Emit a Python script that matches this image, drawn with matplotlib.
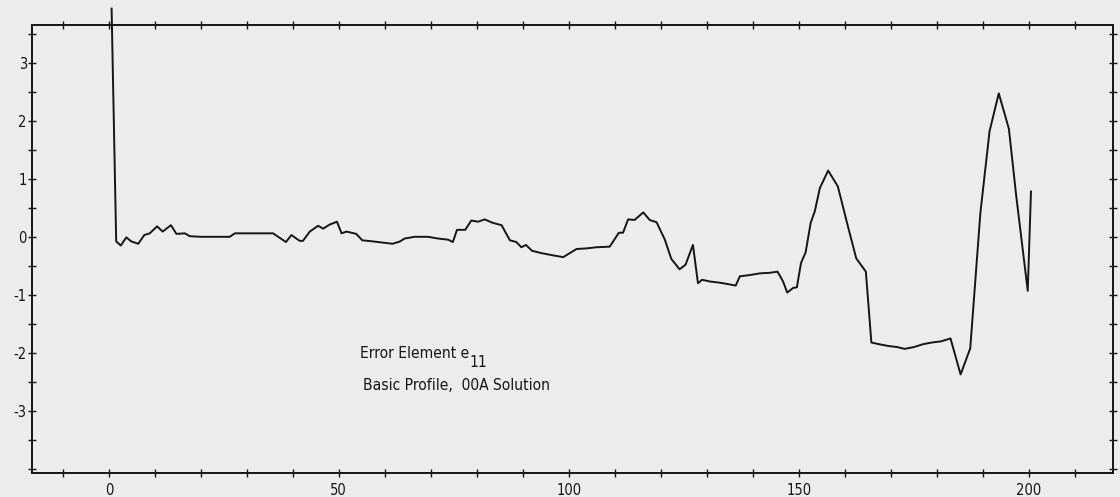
import matplotlib
matplotlib.use("Agg")
import matplotlib.pyplot as plt
from matplotlib.ticker import MultipleLocator

plt.rcParams["axes.unicode_minus"] = False

# sample index and error value
idx = [0.6, 1.6, 2.6, 3.8, 4.9, 6.4, 7.7, 8.9, 10.5, 11.7, 13.5, 14.7, 16.5, 17.6,
       20.0, 23.0, 26.3, 27.4, 31.7, 35.7, 38.5, 39.7, 41.5, 42.2, 43.7, 45.5,
       46.6, 48.0, 49.6, 50.6, 51.7, 53.8, 55.1, 57.5, 59.6, 61.7, 63.3, 64.3,
       66.5, 69.4, 71.6, 73.8, 74.8, 75.7, 77.5, 78.8, 80.3, 81.7, 83.5, 85.4,
       87.2, 88.6, 89.7, 90.7, 92.0, 94.0, 96.6, 98.8, 101.7, 103.8, 106.0,
       108.9, 110.9, 111.8, 112.9, 114.3, 116.2, 117.6, 119.1, 120.9, 122.3,
       124.1, 125.4, 127.0, 128.1, 129.0, 130.7, 132.8, 134.3, 136.3, 137.2,
       139.3, 141.5, 143.7, 145.4, 146.6, 147.5, 148.8, 149.6, 150.5, 151.5,
       152.6, 153.5, 154.6, 156.4, 158.5, 160.7, 162.5, 164.6, 165.8, 167.5,
       169.5, 171.5, 173.0, 175.0, 177.0, 179.0, 181.0, 183.0, 185.2, 187.3,
       189.5, 191.5, 193.5, 195.7, 197.3, 199.8, 200.5]
err = [3.93, -0.08, -0.15, -0.01, -0.08, -0.12, 0.03, 0.06, 0.18, 0.09, 0.20, 0.05,
       0.06, 0.01, 0.0, 0.0, 0.0, 0.06, 0.06, 0.06, -0.09, 0.03, -0.07, -0.07,
       0.09, 0.19, 0.14, 0.21, 0.26, 0.06, 0.09, 0.05, -0.06, -0.08, -0.10,
       -0.12, -0.08, -0.03, 0.0, 0.0, -0.03, -0.05, -0.09, 0.12, 0.12, 0.28,
       0.26, 0.30, 0.24, 0.20, -0.06, -0.09, -0.18, -0.14, -0.24, -0.28, -0.32,
       -0.35, -0.21, -0.20, -0.18, -0.17, 0.07, 0.07, 0.30, 0.29, 0.42, 0.29,
       0.25, -0.05, -0.38, -0.56, -0.48, -0.14, -0.80, -0.74, -0.77, -0.79,
       -0.81, -0.84, -0.68, -0.66, -0.63, -0.62, -0.60, -0.77, -0.96, -0.88,
       -0.87, -0.45, -0.27, 0.24, 0.44, 0.84, 1.14, 0.87, 0.18, -0.37, -0.60,
       -1.82, -1.85, -1.88, -1.90, -1.93, -1.90, -1.85, -1.82, -1.80, -1.75,
       -2.37, -1.92, 0.41, 1.82, 2.47, 1.86, 0.70, -0.93, 0.78]

x_major = [0, 50, 100, 150, 200]
y_major = [-3, -2, -1, 0, 1, 2, 3]

font = dict(family="DejaVu Sans", stretch="condensed")
bg = "#ececec"
ink = "#151515"

fig = plt.figure(figsize=(11.2, 4.97), dpi=100, facecolor=bg)
ax = fig.add_axes([0.0286, 0.048, 0.965, 0.902], facecolor=bg)

ax.plot(idx, err, color=ink, lw=1.4, clip_on=False)

ax.set_xlim(-16.7, 218.3)
ax.set_ylim(-4.07, 3.65)

ax.set_xticks(x_major)
ax.set_yticks(y_major)
ax.xaxis.set_minor_locator(MultipleLocator(10))
ax.yaxis.set_minor_locator(MultipleLocator(0.5))
ax.tick_params(which="both", direction="inout", top=True, right=True,
               length=5.5, width=1.0, color=ink)
ax.tick_params(axis="x", pad=4)
ax.tick_params(axis="y", pad=1)
for lab in ax.get_xticklabels() + ax.get_yticklabels():
    lab.set_fontfamily(font["family"])
    lab.set_fontstretch(font["stretch"])
    lab.set_fontsize(10.5)
    lab.set_color(ink)
for s in ax.spines.values():
    s.set_linewidth(1.4)
    s.set_color(ink)

t1 = ax.text(54.6, -2.09, "Error Element e", fontsize=11.2, color=ink, **font)
ax.annotate("11", xy=(1, 0), xycoords=t1, xytext=(0.5, -4.3),
            textcoords="offset points", va="baseline", fontsize=11.2,
            color=ink, **font)
ax.text(55.2, -2.64, "Basic Profile,  00A Solution", fontsize=11.2,
        color=ink, **font)

fig.savefig("out.png", dpi=100, facecolor=bg)
